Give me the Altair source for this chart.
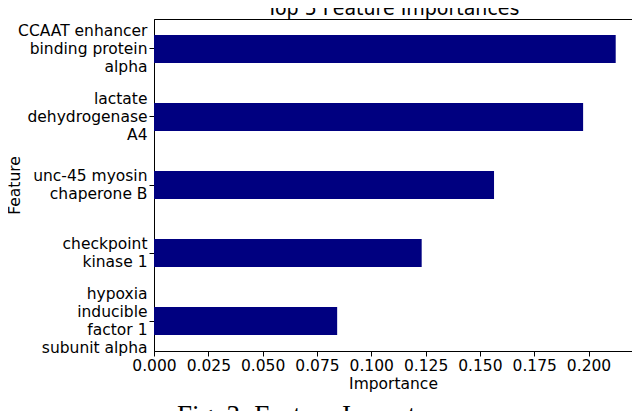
import altair as alt
import pandas as pd

features = [
    "CCAAT enhancer|binding protein|alpha",
    "lactate|dehydrogenase|A4",
    "unc-45 myosin|chaperone B",
    "checkpoint|kinase 1",
    "hypoxia|inducible|factor 1|subunit alpha",
]
importances = [0.2125, 0.1975, 0.1565, 0.1232, 0.0843]
x_ticks = [0.0, 0.025, 0.05, 0.075, 0.1, 0.125, 0.15, 0.175, 0.2]
caption = ["Fig. 3: Feature Importance"]

df = pd.DataFrame({"feature": features, "importance": importances})
cap_df = pd.DataFrame({"text": caption})

FONT = "DejaVu Sans"
LH = 18

bars = alt.Chart(df).mark_bar(color="#000080").encode(
    x=alt.X(
        "importance:Q",
        title="Importance",
        scale=alt.Scale(domain=[0, 0.22], nice=False, zero=True),
        axis=alt.Axis(
            values=x_ticks, format=".3f", grid=False, tickSize=5,
            labelPadding=2, titlePadding=3, labelOverlap=False,
            labelFlush=False,
        ),
    ),
    y=alt.Y(
        "feature:N",
        title="Feature",
        sort=features,
        scale=alt.Scale(paddingInner=0.588, paddingOuter=0.235),
        axis=alt.Axis(
            labelExpr="split(datum.label, '|')",
            labelLineHeight=LH,
            labelBaseline="middle",
            labelOffset=alt.ExprRef(
                expr=f"-(length(split(datum.label, '|')) - 1) * {LH / 2}"
            ),
            grid=False, tickSize=5, labelPadding=2,
            labelLimit=300,
            titleX=-135, titleBaseline="alphabetic",
        ),
    ),
)

cap = alt.Chart(cap_df).mark_text(
    font="Liberation Serif", fontSize=27, align="left", baseline="top",
    color="#000000",
).encode(
    text="text:N",
    x=alt.value(23),
    y=alt.value(384),
)

chart = alt.layer(bars, cap).properties(
    width=478,
    height=332,
    title=alt.TitleParams(
        "Top 5 Feature Importances", fontSize=19, font=FONT,
        fontWeight="normal", color="#000000", offset=3, dy=3,
    ),
    autosize=alt.AutoSizeParams(type="none"),
    padding={"left": 146, "top": 11, "right": 0, "bottom": 60},
).configure_axis(
    labelFont=FONT, titleFont=FONT, labelFontSize=15.5, titleFontSize=15.5,
    labelColor="#000000", titleColor="#000000", domainColor="#000000",
    tickColor="#000000", titleFontWeight="normal",
).configure_view(
    stroke="#000000", strokeWidth=1,
)

chart.save("out.html", embed_options={"renderer": "svg", "actions": False})
